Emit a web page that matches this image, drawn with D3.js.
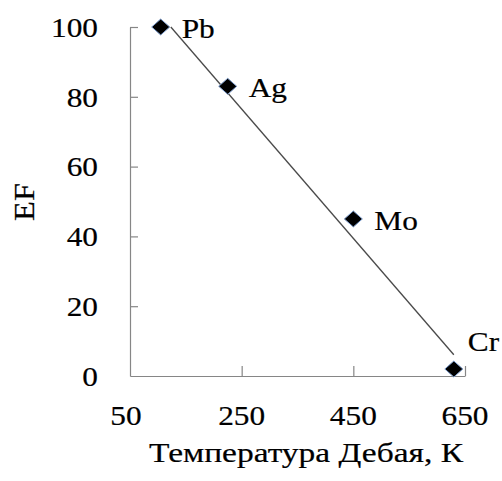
<!DOCTYPE html>
<html>
<head>
  <meta charset="utf-8">
  <style>
    * { margin: 0; padding: 0; box-sizing: border-box; }
    body { background: #fff; }
    svg { display: block; }
    text { font-family: 'Liberation Serif', 'Times New Roman', serif; fill: #000; stroke: #000; stroke-width: 0.2; }
  </style>
</head>
<body>
  <div id="chart"></div>
  <script src="https://cdn.jsdelivr.net/npm/d3@7"></script>
  <script>
    // element names, Debye temperature (K), enrichment factor
    const elements = ['Pb', 'Ag', 'Mo', 'Cr'];
    const debyeTemp = [105, 225, 450, 630];
    const efValues = [100, 83, 45, 2];
    const xTicks = [50, 250, 450, 650];
    const yTicks = [0, 20, 40, 60, 80, 100];
    const xTitle = 'Температура Дебая, К';
    const yTitle = 'EF';

    const width = 502, height = 481;
    const margin = { left: 130, right: 37, top: 27, bottom: 105 };
    const fontSize = 27;
    const stretch = 1.16; // the original text is a bit wider than Times
    const axisColor = '#868686';

    const x = d3.scaleLinear().domain([50, 650]).range([margin.left, width - margin.right]);
    const y = d3.scaleLinear().domain([0, 100]).range([height - margin.bottom, margin.top]);

    const svg = d3.select('#chart').append('svg')
      .attr('width', width).attr('height', height)
      .attr('viewBox', [0, 0, width, height]);

    function place(px, py, sx) {
      return 'translate(' + px + ',' + py + ') scale(' + (sx || stretch) + ',1)';
    }

    // axes, ticks drawn inward like the Excel original
    const xAxis = svg.append('g').attr('transform', 'translate(0,' + y(0) + ')')
      .call(d3.axisTop(x).tickValues(xTicks).tickSize(10).tickSizeOuter(0).tickFormat(''));
    const yAxis = svg.append('g').attr('transform', 'translate(' + x(50) + ',0)')
      .call(d3.axisRight(y).tickValues(yTicks).tickSize(8).tickSizeOuter(0).tickFormat(''));
    [xAxis, yAxis].forEach(function(a) {
      a.select('.domain').attr('stroke', axisColor).attr('stroke-width', 1.2);
      a.selectAll('.tick line').attr('stroke', axisColor).attr('stroke-width', 1.2);
    });
    xAxis.selectAll('.tick').filter(function(d) { return d === 50; }).remove();
    yAxis.selectAll('.tick').filter(function(d) { return d === 0; }).remove();

    // tick labels
    svg.append('g').selectAll('text').data(yTicks).join('text')
      .attr('transform', function(d) { return place(98, y(d)); })
      .attr('dy', '0.36em').attr('text-anchor', 'end')
      .attr('font-size', fontSize).text(function(d) { return d; });
    svg.append('g').selectAll('text').data(xTicks).join('text')
      .attr('transform', function(d) { return place(x(d) - (d === 50 ? 4 : 0), y(0) + 49); })
      .attr('text-anchor', 'middle')
      .attr('font-size', fontSize).text(function(d) { return d; });

    // axis titles
    svg.append('text')
      .attr('transform', place(306, 462, 1.24))
      .attr('text-anchor', 'middle').attr('font-size', fontSize).text(xTitle);
    svg.append('text')
      .attr('transform', 'translate(34,202) rotate(-90) scale(1.2,1.1)')
      .attr('text-anchor', 'middle').attr('font-size', fontSize).text(yTitle);

    // linear trend line over the data range, clipped to the plot area
    const n = debyeTemp.length;
    const mx = d3.mean(debyeTemp), my = d3.mean(efValues);
    let sxy = 0, sxx = 0;
    for (let i = 0; i < n; i++) {
      sxy += (debyeTemp[i] - mx) * (efValues[i] - my);
      sxx += (debyeTemp[i] - mx) * (debyeTemp[i] - mx);
    }
    const slope = sxy / sxx, intercept = my - slope * mx;
    let x0 = d3.min(debyeTemp), x1 = d3.max(debyeTemp);
    if (intercept + slope * x0 > 100) x0 = (100 - intercept) / slope;
    svg.append('line')
      .attr('x1', x(x0)).attr('y1', y(intercept + slope * x0))
      .attr('x2', x(x1)).attr('y2', y(intercept + slope * x1))
      .attr('stroke', '#4a4a4a').attr('stroke-width', 1.3);

    // markers
    const pts = elements.map(function(e, i) { return { name: e, t: debyeTemp[i], ef: efValues[i] }; });
    svg.append('g').selectAll('path').data(pts).join('path')
      .attr('transform', function(d) { return 'translate(' + x(d.t) + ',' + y(d.ef) + ')'; })
      .attr('d', 'M0,-8L9,0L0,8L-9,0Z')
      .attr('fill', '#000').attr('stroke', '#7c9ccc').attr('stroke-width', 1);

    // data labels to the right; Cr sits above-right
    svg.append('g').selectAll('text').data(pts).join('text')
      .attr('transform', function(d) {
        return place(x(d.t) + (d.name === 'Cr' ? 14 : 21), y(d.ef) + (d.name === 'Cr' ? -28 : 1));
      })
      .attr('dy', '0.36em')
      .attr('font-size', fontSize).text(function(d) { return d.name; });
  </script>
</body>
</html>
